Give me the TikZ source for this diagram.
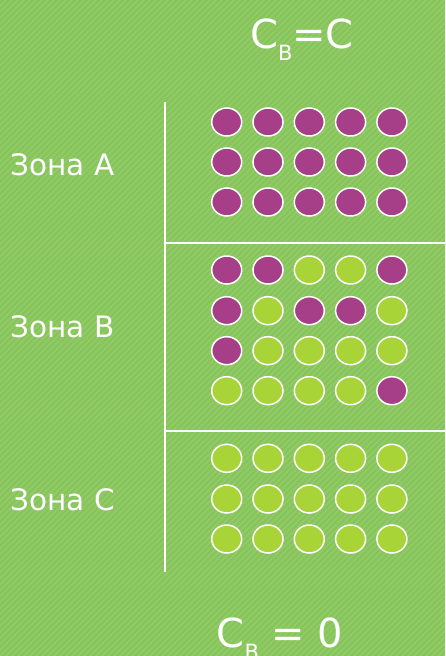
\documentclass[tikz,border=0pt]{standalone}
\usepackage{fontspec}
\setmainfont{DejaVu Sans}
\usetikzlibrary{shapes.geometric}

\definecolor{bggreen}{RGB}{136,196,92}
\definecolor{stripe}{RGB}{146,204,104}
\definecolor{plum}{RGB}{166,62,136}
\definecolor{lime}{RGB}{168,212,56}

\begin{document}
\begin{tikzpicture}[x=1pt, y=-1pt,
ball/.style={draw=white, ellipse, line width=1.5pt, minimum width=30pt, minimum height=28pt, inner sep=0pt},
zone/.style={text=white, font=\fontsize{29.5}{32}\selectfont, anchor=west},
formula/.style={text=white, font=\fontsize{40}{44}\selectfont, anchor=base},
rule/.style={draw=white, line width=1.8pt}]
    \useasboundingbox (0,0) rectangle (445,656);
    \fill[bggreen] (0,0) rectangle (445,656);
    % light diagonal stripes
    \begin{scope}
        \clip (0,0) rectangle (445,656);
        \foreach \s in {0,6,...,1110}
            \draw[stripe, line width=1.5pt] (\s-660,656) -- (\s,0);
    \end{scope}

    % formulas
    \node[formula] (top) at (302,48) {C\raisebox{-12pt}{\fontsize{21}{21}\selectfont В}=C};
    \node[formula] (bottom) at (280,647) {C\raisebox{-12pt}{\fontsize{21}{21}\selectfont В} = 0};

    % frame
    \coordinate (vtop) at (165,102);
    \coordinate (vbot) at (165,572);
    \coordinate (ab) at (165,243);
    \coordinate (abr) at (445,243);
    \coordinate (bc) at (165,431);
    \coordinate (bcr) at (445,431);
    \draw[rule] (vtop) -- (vbot);
    \draw[rule] (ab) -- (abr);
    \draw[rule] (bc) -- (bcr);

    % zone labels
    \node[zone] (za) at (7,165) {Зона A};
    \node[zone] (zb) at (7,327) {Зона B};
    \node[zone] (zc) at (7,500) {Зона C};

    % zone A
    \foreach \r/\y in {1/122,2/162,3/202}
        \foreach \c in {1,...,5}
            \node[ball, fill=plum] (a-\r-\c) at (185.4+41.3*\c,\y) {};

    % zone B
    \foreach \r/\y/\cols in {1/270/{plum,plum,lime,lime,plum},
                             2/310.7/{plum,lime,plum,plum,lime},
                             3/350.7/{plum,lime,lime,lime,lime},
                             4/390.7/{lime,lime,lime,lime,plum}}
        \foreach \col [count=\c] in \cols
            \node[ball, fill=\col] (b-\r-\c) at (185.4+41.3*\c,\y) {};

    % zone C
    \foreach \r/\y in {1/458.3,2/499,3/539}
        \foreach \c in {1,...,5}
            \node[ball, fill=lime] (c-\r-\c) at (185.4+41.3*\c,\y) {};
\end{tikzpicture}
\end{document}
